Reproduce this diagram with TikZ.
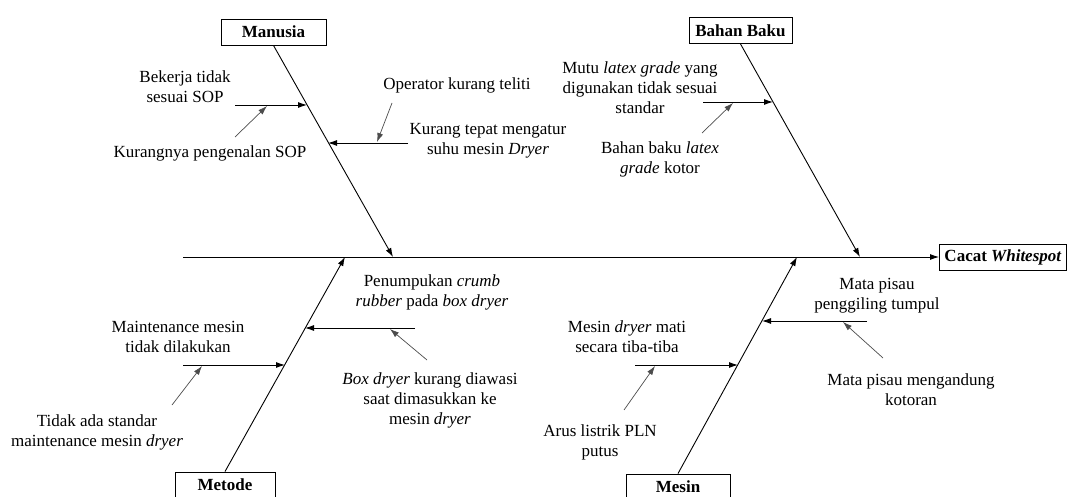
\documentclass[tikz,border=0pt]{standalone}
\usepackage{fontspec}
\setmainfont{Liberation Serif}
\usetikzlibrary{arrows.meta}
\newcommand{\labelsize}{\fontsize{17}{20}\selectfont}
\tikzset{>={Latex[length=9pt,width=6pt]}}
\tikzset{
  bone/.style  = {->, line width=0.9pt},
  twig/.style  = {->, line width=0.7pt, black!70},
  cause/.style = {draw, line width=0.9pt, font=\labelsize\bfseries, minimum height=26pt, inner xsep=5pt},
  note/.style  = {align=center, inner sep=0pt}
}

\begin{document}
\begin{tikzpicture}[x=1pt,y=-1pt,font=\labelsize]
  \useasboundingbox (0,0) rectangle (1068,497);
  % heads
  \node[cause, minimum width=105pt] (manusia) at (273.5,32) {Manusia};
  \node[cause, minimum width=103pt] (bahan)   at (740.5,30.5) {Bahan Baku};
  \node[cause, minimum width=100pt] (metode)  at (225,485) {Metode};
  \node[cause, minimum width=104pt] (mesin)   at (678,487) {Mesin};
  \node[cause, minimum width=126pt] (cacat)   at (1003,257) {Cacat \textit{Whitespot}};
  % spine and bones
  \coordinate (tail) at (183,257);
  \coordinate (m) at (393,257);
  \coordinate (b) at (860,257);
  \coordinate (t) at (345,257);
  \coordinate (s) at (797,257);
  \draw[bone] (tail) -- (cacat);
  \draw[bone] (manusia.south) -- (m);
  \draw[bone] (bahan.south) -- (b);
  \draw[bone] (metode.north) -- (t);
  \draw[bone] (mesin.north) -- (s);
  % labels
  \node[note] (bekerja)     at (185,87)  {Bekerja tidak\\sesuai SOP};
  \node[note] (kurangsop)   at (210,153) {Kurangnya pengenalan SOP};
  \node[note] (operator)    at (457,85)  {Operator kurang teliti};
  \node[note] (kurangtepat) at (488,141) {Kurang tepat mengatur\\suhu mesin \textit{Dryer}};
  \node[note] (mutu)        at (640,88)  {Mutu \textit{latex grade} yang\\digunakan tidak sesuai\\standar};
  \node[note] (bahanbaku)   at (660,159) {Bahan baku \textit{latex}\\\textit{grade} kotor};
  \node[note] (penumpukan)  at (432,292) {Penumpukan \textit{crumb}\\\textit{rubber} pada \textit{box dryer}};
  \node[note] (boxdryer)    at (430,400) {\textit{Box dryer} kurang diawasi\\saat dimasukkan ke\\mesin \textit{dryer}};
  \node[note] (maintenance) at (178,337) {Maintenance mesin\\tidak dilakukan};
  \node[note] (tidakada)    at (97,432)  {Tidak ada standar\\maintenance mesin \textit{dryer}};
  \node[note] (matapisau)   at (877,296) {Mata pisau\\penggiling tumpul};
  \node[note] (mengandung)  at (911,390) {Mata pisau mengandung\\kotoran};
  \node[note] (mesindryer)  at (627,337) {Mesin \textit{dryer} mati\\secara tiba-tiba};
  \node[note] (arus)        at (600,442) {Arus listrik PLN\\putus};
  % sub-bones
  \coordinate (m1a) at (235,105); \coordinate (m1) at (307,105);
  \coordinate (m2a) at (408,143); \coordinate (m2) at (328,143);
  \coordinate (b1a) at (703,102); \coordinate (b1) at (773,102);
  \coordinate (t1a) at (415,328); \coordinate (t1) at (305,328);
  \coordinate (t2a) at (183,365); \coordinate (t2) at (285,365);
  \coordinate (s1a) at (867,321); \coordinate (s1) at (762,321);
  \coordinate (s2a) at (635,365); \coordinate (s2) at (738,365);
  \foreach \n in {m1,m2,b1,t1,t2,s1,s2} { \draw[bone] (\n a) -- (\n); };
  % twigs
  \coordinate (m1b) at (235,137); \coordinate (m1c) at (267,106);
  \coordinate (m2b) at (392,103); \coordinate (m2c) at (377,142);
  \coordinate (b1b) at (702,133); \coordinate (b1c) at (733,103);
  \coordinate (t1b) at (427,360); \coordinate (t1c) at (390,329);
  \coordinate (t2b) at (172,405); \coordinate (t2c) at (202,366);
  \coordinate (s1b) at (883,358); \coordinate (s1c) at (843,322);
  \coordinate (s2b) at (624,410); \coordinate (s2c) at (655,366);
  \foreach \n in {m1,m2,b1,t1,t2,s1,s2} { \draw[twig] (\n b) -- (\n c); };
\end{tikzpicture}
\end{document}
